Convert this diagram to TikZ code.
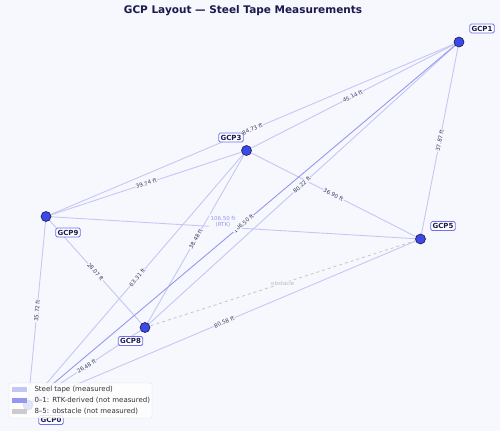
\documentclass[tikz,border=0pt]{standalone}
\usepackage{fontspec}
\setmainfont{DejaVu Sans}
\usepackage{tikz}

\definecolor{bgc}{RGB}{247,248,253}
\definecolor{tapec}{RGB}{196,199,246}
\definecolor{rtkc}{RGB}{148,152,240}
\definecolor{navy}{RGB}{26,26,78}
\definecolor{dotc}{RGB}{59,74,230}
\definecolor{boxc}{RGB}{112,112,240}
\definecolor{lenc}{RGB}{58,58,96}

\begin{document}
\begin{tikzpicture}[x=1pt, y=-1pt,
    tape/.style={tapec, line width=0.9pt},
    rtk/.style={rtkc, line width=0.9pt},
    blocked/.style={gray!45, dashed, line width=0.8pt},
    len/.style={midway, sloped, fill=bgc, inner sep=0.5pt, text=lenc, font=\fontsize{5.5}{6}\selectfont},
    pt/.style={circle, fill=dotc, draw=navy, line width=0.6pt, minimum size=10pt, inner sep=0pt},
    tag/.style={draw=boxc, fill=white, rounded corners=1.5pt, line width=0.8pt, inner sep=1.8pt, text=navy, font=\fontsize{7}{8}\selectfont\bfseries},
    key/.style={anchor=west, text=black!80, font=\fontsize{7}{8}\selectfont}]
  \fill[bgc] (0, 0) rectangle (500, 431);
  \node[text=navy, font=\fontsize{10.5}{12}\selectfont\bfseries] (title) at (243, 11) {GCP Layout — Steel Tape Measurements};
  \coordinate (c0) at (28, 405);
  \coordinate (c1) at (459, 42);
  \coordinate (c3) at (246.5, 150.5);
  \coordinate (c5) at (420.5, 239);
  \coordinate (c8) at (145, 327.5);
  \coordinate (c9) at (46, 216.5);
  \draw[tape] (c9) -- (c5);
  \draw[tape] (c9) -- node[len] {39.74 ft} (c3);
  \draw[tape] (c9) -- node[len] {84.73 ft} (c1);
  \draw[tape] (c3) -- node[len] {45.14 ft} (c1);
  \draw[tape] (c1) -- node[len] {37.87 ft} (c5);
  \draw[tape] (c3) -- node[len] {36.90 ft} (c5);
  \draw[tape] (c1) -- node[len] {80.22 ft} (c8);
  \draw[tape] (c9) -- node[len] {28.07 ft} (c8);
  \draw[tape] (c9) -- node[len] {35.72 ft} (c0);
  \draw[tape] (c3) -- node[len] {38.48 ft} (c8);
  \draw[tape] (c3) -- node[len] {63.31 ft} (c0);
  \draw[tape] (c8) -- node[len] {26.48 ft} (c0);
  \draw[tape] (c5) -- node[len] {80.58 ft} (c0);
  \draw[rtk] (c1) -- node[len] {106.50 ft} (c0);
  \draw[blocked] (c8) -- node[midway, fill=bgc, inner sep=0.5pt, text=gray!55, font=\fontsize{5.5}{6}\selectfont] {obstacle} (c5);
  \node[fill=bgc, inner sep=2pt, align=center, text=rtkc, font=\fontsize{5.5}{6.5}\selectfont] (rtknote) at (223, 222) {106.50 ft\\(RTK)};
  \node[pt] (g0) at (c0) {};
  \node[pt] (g1) at (c1) {};
  \node[pt] (g3) at (c3) {};
  \node[pt] (g5) at (c5) {};
  \node[pt] (g8) at (c8) {};
  \node[pt] (g9) at (c9) {};
  \node[tag] (t0) at (51, 420) {GCP0};
  \node[tag] (t1) at (482, 28.5) {GCP1};
  \node[tag] (t3) at (231, 137.5) {GCP3};
  \node[tag] (t5) at (443, 226) {GCP5};
  \node[tag] (t8) at (130.5, 341) {GCP8};
  \node[tag] (t9) at (68, 232.5) {GCP9};
  \draw[gray!25, fill=white, fill opacity=0.85, rounded corners=2pt] (9, 383) rectangle (152, 418);
  \fill[tapec] (12, 387) rectangle (27, 392);
  \fill[rtkc] (12, 398) rectangle (27, 403);
  \fill[gray!40] (12, 409) rectangle (27, 414);
  \node[key] (k1) at (31, 389.5) {Steel tape (measured)};
  \node[key] (k2) at (31, 400.5) {0–1: RTK-derived (not measured)};
  \node[key] (k3) at (31, 411.5) {8–5: obstacle (not measured)};
\end{tikzpicture}
\end{document}
